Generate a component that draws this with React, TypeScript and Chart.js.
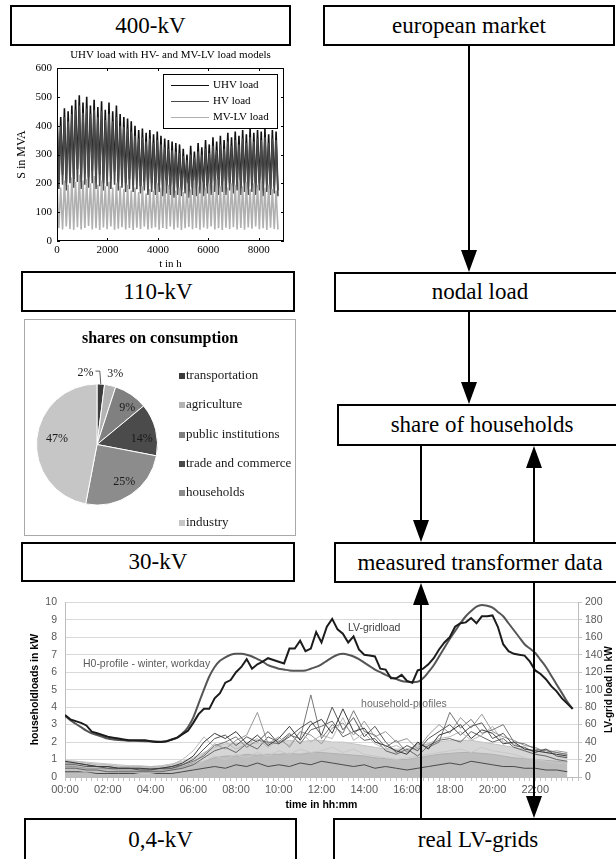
import React, { useEffect, useRef } from 'react';
import { Chart, registerables } from 'chart.js';

Chart.register(...registerables);

const SERIF = '"Liberation Serif", "Times New Roman", Times, serif';
const SANS = '"Liberation Sans", Arial, Helvetica, sans-serif';

// ---------------- Top chart data (S in MVA over one year, peak/trough pairs) ----------------
const topChartTitle = 'UHV load with HV- and MV-LV load models';
const yearLengthHours = 8760;
const topXTicks = [0, 2000, 4000, 6000, 8000];
const uhvLoad = [
  445, 210, 430, 230, 460, 200, 450, 240, 470, 215, 490, 250, 505, 205, 480, 235, 500, 220, 470, 245,
  490, 210, 465, 230, 485, 200, 455, 225, 480, 215, 450, 240, 470, 205, 440, 220, 430, 200, 425, 215,
  415, 195, 400, 210, 385, 190, 390, 205, 375, 185, 385, 200, 370, 180, 380, 195, 365, 175, 355, 190,
  350, 180, 345, 170, 340, 185, 335, 175, 320, 190, 300, 170, 330, 185, 310, 180, 340, 195, 325, 175,
  350, 190, 335, 180, 360, 200, 345, 185, 365, 195, 350, 180, 375, 200, 360, 190, 380, 205, 365, 185,
  385, 200, 370, 180, 390, 195, 375, 185, 385, 200, 380, 175, 390, 195, 370, 180, 385, 190, 380, 175,
];
const hvLoad = [
  420, 180, 400, 195, 430, 175, 415, 200, 440, 185, 455, 205, 470, 180, 445, 195, 460, 185, 440, 200,
  455, 180, 430, 190, 450, 175, 420, 190, 440, 180, 415, 195, 430, 175, 400, 185, 395, 170, 390, 180,
  380, 170, 365, 180, 355, 165, 360, 175, 345, 160, 355, 170, 340, 160, 350, 170, 335, 155, 325, 165,
  320, 160, 315, 150, 310, 160, 305, 155, 295, 165, 280, 150, 300, 160, 290, 155, 310, 165, 300, 155,
  320, 165, 305, 160, 330, 170, 315, 160, 335, 170, 320, 160, 345, 175, 330, 165, 350, 175, 335, 160,
  355, 170, 340, 160, 360, 170, 345, 160, 355, 175, 350, 155, 360, 170, 340, 160, 355, 165, 350, 155,
];
const mvlvLoad = [
  200, 45, 185, 40, 210, 50, 195, 42, 220, 38, 205, 48, 230, 40, 210, 45, 215, 52, 200, 40,
  225, 44, 195, 38, 210, 47, 190, 41, 205, 50, 185, 39, 200, 43, 190, 48, 180, 40, 195, 45,
  175, 38, 185, 46, 170, 42, 190, 50, 165, 40, 180, 44, 175, 48, 200, 39, 185, 45, 210, 42,
  195, 50, 190, 40, 175, 46, 185, 38, 170, 44, 200, 49, 180, 41, 210, 45, 190, 39, 205, 47,
  185, 43, 200, 50, 195, 40, 215, 44, 190, 38, 205, 46, 185, 42, 200, 48, 195, 40, 210, 45,
  190, 39, 205, 47, 180, 43, 200, 50, 195, 41, 210, 44, 185, 38, 195, 46, 180, 42, 175, 40,
];
const topSeriesLabels = ['UHV load', 'HV load', 'MV-LV load'];

// ---------------- Pie chart data ----------------
const pieTitle = 'shares on consumption';
const pieLabels = ['transportation', 'agriculture', 'public institutions', 'trade and commerce', 'households', 'industry'];
const pieShares = [2, 3, 9, 14, 25, 47];

// ---------------- Bottom chart data ----------------
// LV-grid load in kW (right axis), quarter-hourly 00:00 .. 23:45
const lvGridLoad = [
  71, 66, 64, 62, 59, 52, 50, 48,
  46, 45, 44, 43, 42, 42, 42, 42,
  41, 40, 40, 41, 43, 45, 49, 53,
  62, 72, 78, 78, 90, 96, 108, 111,
  120, 126, 135, 124, 129, 132, 136, 134,
  132, 130, 147, 147, 156, 144, 147, 166,
  154, 172, 181, 169, 164, 154, 161, 146,
  140, 139, 138, 124, 123, 113, 113, 117,
  110, 108, 122, 124, 129, 136, 146, 154,
  160, 172, 176, 177, 182, 176, 184, 184,
  185, 172, 152, 144, 141, 140, 139, 132,
  122, 118, 112, 104, 98, 90, 84, 78,
];
// H0 standard profile, scaled to the LV grid (right axis), quarter-hourly
const h0Profile = [
  70, 65, 61, 57, 53, 50, 48, 46,
  44, 43, 42.4, 42, 41.6, 41.4, 41.2, 41,
  40.8, 40.5, 40.4, 41, 43, 45, 50, 57,
  68, 84, 100, 115, 126, 133, 137, 140,
  141, 141, 140, 138, 135, 132, 128, 126,
  124, 123, 122, 121.5, 121.5, 122, 124, 126,
  129, 133, 137, 140, 141, 140, 138, 135,
  131, 127, 123, 120, 117, 114, 112, 110,
  109, 108.5, 109, 113, 120, 128, 138, 148,
  158, 167, 176, 184, 190, 195, 197, 196,
  194, 189, 184, 176, 168, 160, 152, 147,
  142, 134, 126, 116, 106, 96, 86, 78,
];
// household profiles in kW (left axis), half-hourly 00:00 .. 23:30
const householdEnvelope = [
  0.95, 0.9, 0.85, 0.8, 0.75, 0.7, 0.65, 0.65, 0.6, 0.65, 0.75, 0.9,
  1.1, 1.4, 1.7, 1.9, 1.9, 2.0, 1.9, 2.0, 2.0, 2.1, 2.0, 2.1,
  2.1, 2.0, 2.0, 1.9, 1.8, 1.7, 1.6, 1.6, 1.6, 1.8, 1.9, 2.0,
  2.1, 2.1, 2.1, 2.0, 1.9, 1.8, 1.7, 1.6, 1.5, 1.4, 1.3, 1.3,
];
const householdCore = [
  0.6, 0.55, 0.5, 0.5, 0.45, 0.4, 0.4, 0.4, 0.38, 0.4, 0.45, 0.55,
  0.7, 0.9, 1.1, 1.2, 1.2, 1.3, 1.25, 1.3, 1.3, 1.35, 1.3, 1.4,
  1.4, 1.35, 1.3, 1.25, 1.2, 1.1, 1.05, 1.0, 1.0, 1.1, 1.2, 1.3,
  1.35, 1.4, 1.4, 1.35, 1.3, 1.2, 1.1, 1.05, 1.0, 0.95, 0.9, 0.85,
];
const household1 = [
  0.9, 0.8, 0.7, 0.6, 0.6, 0.5, 0.5, 0.5, 0.45, 0.5, 0.6, 0.8,
  1.2, 2.0, 2.5, 2.2, 2.6, 1.9, 2.4, 1.8, 2.2, 2.9, 2.1, 3.0,
  3.3, 2.5, 3.9, 2.6, 2.8, 2.0, 1.8, 1.5, 1.3, 2.0, 1.6, 2.4,
  2.6, 3.0, 2.2, 2.7, 2.5, 1.9, 2.0, 1.6, 1.5, 1.4, 1.3, 1.2,
];
const household2 = [
  0.7, 0.7, 0.6, 0.6, 0.5, 0.5, 0.5, 0.4, 0.4, 0.5, 0.5, 0.7,
  1.0, 1.6, 2.2, 2.4, 1.8, 2.3, 2.0, 2.6, 1.9, 2.3, 2.8, 3.2,
  2.4, 4.0, 2.7, 3.4, 2.3, 2.9, 2.0, 1.4, 1.8, 1.5, 2.2, 2.6,
  3.0, 2.4, 2.9, 3.1, 2.2, 2.5, 1.8, 1.7, 1.4, 1.6, 1.2, 1.1,
];
const household3 = [
  0.8, 0.8, 0.7, 0.6, 0.6, 0.5, 0.5, 0.5, 0.5, 0.5, 0.6, 0.7,
  0.9, 1.2, 1.8, 2.0, 2.3, 1.7, 2.1, 2.0, 1.9, 2.4, 2.2, 4.7,
  2.2, 3.0, 2.5, 3.8, 2.6, 2.4, 1.7, 2.1, 1.4, 1.9, 1.7, 2.0,
  3.7, 2.8, 3.3, 2.5, 2.7, 3.0, 2.0, 1.9, 1.6, 1.5, 1.4, 1.3,
];
const household4 = [
  0.6, 0.6, 0.5, 0.5, 0.5, 0.4, 0.4, 0.4, 0.4, 0.4, 0.5, 0.6,
  0.8, 1.3, 1.9, 1.6, 2.1, 2.4, 3.7, 1.9, 2.3, 1.7, 2.6, 2.4,
  1.9, 2.8, 3.1, 2.4, 3.2, 2.3, 2.6, 2.0, 2.2, 1.6, 2.4, 3.0,
  2.5, 3.4, 2.8, 3.6, 2.6, 2.3, 2.1, 1.8, 1.7, 1.4, 1.5, 1.4,
];
const household5 = [
  0.9, 0.9, 0.8, 0.7, 0.7, 0.6, 0.6, 0.6, 0.6, 0.6, 0.7, 1.0,
  1.5, 2.3, 1.7, 2.0, 1.6, 1.9, 2.2, 1.7, 2.1, 1.8, 2.6, 2.0,
  2.4, 2.2, 3.4, 2.1, 2.5, 1.9, 1.6, 1.8, 1.5, 1.7, 1.9, 2.2,
  2.3, 2.6, 2.1, 2.4, 2.9, 2.0, 1.9, 1.6, 1.5, 1.6, 1.4, 1.3,
];
const household6 = [
  0.5, 0.5, 0.4, 0.4, 0.3, 0.3, 0.3, 0.3, 0.3, 0.3, 0.4, 0.5,
  0.7, 1.1, 1.5, 1.7, 1.4, 1.9, 1.6, 2.3, 2.0, 2.5, 1.9, 2.7,
  2.9, 3.2, 2.3, 2.6, 2.1, 2.2, 1.5, 1.3, 1.6, 1.2, 1.8, 2.1,
  2.2, 2.0, 2.6, 2.3, 2.0, 2.2, 1.7, 1.5, 1.3, 1.2, 1.0, 0.9,
];
const household7 = [
  0.4, 0.4, 0.3, 0.3, 0.3, 0.3, 0.3, 0.2, 0.2, 0.3, 0.3, 0.4,
  0.6, 0.9, 1.2, 1.0, 1.3, 1.1, 1.4, 1.2, 1.5, 1.3, 1.6, 1.4,
  1.5, 1.7, 1.4, 1.6, 1.3, 1.2, 1.1, 1.0, 1.1, 1.2, 1.3, 1.4,
  1.5, 1.6, 1.4, 1.7, 1.5, 1.4, 1.3, 1.1, 1.0, 0.9, 0.8, 0.8,
];
const household8 = [
  0.3, 0.3, 0.3, 0.2, 0.2, 0.2, 0.2, 0.2, 0.2, 0.2, 0.2, 0.3,
  0.4, 0.5, 0.6, 0.5, 0.7, 0.6, 0.8, 0.6, 0.7, 0.6, 0.8, 0.7,
  0.9, 0.8, 0.7, 0.6, 0.7, 0.5, 0.6, 0.5, 0.4, 0.5, 0.6, 0.7,
  0.8, 0.7, 0.9, 0.8, 0.7, 0.6, 0.6, 0.5, 0.5, 0.4, 0.4, 0.3,
];
const householdProfiles = [household1, household2, household3, household4, household5, household6, household7, household8];

// ---------------- helpers ----------------
const overYear = (vals: number[]) => vals.map((v, i) => ({ x: (i * yearLengthHours) / (vals.length - 1), y: v }));
const quarterHourly = (vals: number[]) => vals.map((v, i) => ({ x: i * 0.25, y: v }));
const halfHourly = (vals: number[]) => vals.map((v, i) => ({ x: i * 0.5, y: v }));
const hhmm = (h: number) => `${String(h).padStart(2, '0')}:00`;

// ---------------- Top chart ----------------
function TopChart() {
  const ref = useRef<HTMLCanvasElement>(null);
  useEffect(() => {
    const matlabPlugin = {
      id: 'matlabFrame',
      afterDraw(chart: any) {
        const { ctx, chartArea: a } = chart;
        const xs = chart.scales.x;
        const ys = chart.scales.y;
        ctx.save();
        ctx.strokeStyle = '#000';
        ctx.lineWidth = 1;
        ctx.strokeRect(a.left + 0.5, a.top + 0.5, a.right - a.left - 1, a.bottom - a.top - 1);
        ctx.beginPath();
        xs.ticks.forEach((t: any) => {
          const px = Math.round(xs.getPixelForValue(t.value)) + 0.5;
          ctx.moveTo(px, a.bottom); ctx.lineTo(px, a.bottom - 3);
          ctx.moveTo(px, a.top); ctx.lineTo(px, a.top + 3);
        });
        ys.ticks.forEach((t: any) => {
          const py = Math.round(ys.getPixelForValue(t.value)) + 0.5;
          ctx.moveTo(a.left, py); ctx.lineTo(a.left + 3, py);
          ctx.moveTo(a.right, py); ctx.lineTo(a.right - 3, py);
        });
        ctx.stroke();
        // title
        ctx.fillStyle = '#000';
        ctx.font = `11px ${SERIF}`;
        ctx.textAlign = 'center';
        ctx.textBaseline = 'middle';
        ctx.fillText(topChartTitle, (a.left + a.right) / 2, 7);
        // legend
        const bw = 114, bh = 54;
        const bx = a.right - 7 - bw, by = a.top + 6;
        ctx.fillStyle = '#fff';
        ctx.fillRect(bx, by, bw, bh);
        ctx.strokeRect(bx + 0.5, by + 0.5, bw, bh);
        topSeriesLabels.forEach((lab, i) => {
          const ds = chart.data.datasets.find((d: any) => d.label === lab);
          const ly = by + 11 + i * 16;
          ctx.strokeStyle = ds.borderColor;
          ctx.lineWidth = 1;
          ctx.beginPath();
          ctx.moveTo(bx + 8, ly + 0.5); ctx.lineTo(bx + 46, ly + 0.5);
          ctx.stroke();
          ctx.fillStyle = '#000';
          ctx.textAlign = 'left';
          ctx.fillText(lab, bx + 50, ly);
        });
        ctx.restore();
      },
    };
    const chart = new Chart(ref.current!, {
      type: 'line',
      data: {
        datasets: [
          { label: 'UHV load', data: overYear(uhvLoad), borderColor: '#111111', borderWidth: 1.6, pointRadius: 0, order: 3 },
          { label: 'HV load', data: overYear(hvLoad), borderColor: '#4a4a4a', borderWidth: 1.6, pointRadius: 0, order: 2 },
          { label: 'MV-LV load', data: overYear(mvlvLoad), borderColor: '#b0b0b0', borderWidth: 1.6, pointRadius: 0, order: 1 },
        ],
      },
      options: {
        responsive: false,
        animation: false,
        devicePixelRatio: 1,
        layout: { padding: { left: 0, right: 16, top: 20, bottom: 0 } },
        plugins: { legend: { display: false }, tooltip: { enabled: false }, title: { display: false } },
        scales: {
          x: {
            type: 'linear', min: 0, max: 9000,
            afterBuildTicks: (s: any) => { s.ticks = topXTicks.map((v) => ({ value: v })); },
            ticks: { stepSize: 2000, includeBounds: false, font: { family: SERIF, size: 11 }, color: '#000', padding: 3, maxRotation: 0, callback: (v: any) => String(v) },
            grid: { display: false, drawTicks: false },
            border: { display: false },
            title: { display: true, text: 't in h', font: { family: SERIF, size: 11, lineHeight: 1 }, color: '#000', padding: 0 },
            afterFit: (s: any) => { s.height = 29; },
          },
          y: {
            min: 0, max: 600,
            ticks: { stepSize: 100, font: { family: SERIF, size: 11 }, color: '#000', padding: 5, callback: (v: any) => String(v) },
            grid: { display: false, drawTicks: false },
            border: { display: false },
            title: { display: true, text: 'S in MVA', font: { family: SERIF, size: 12 }, color: '#000', padding: { top: 15, bottom: 0 } },
            afterFit: (s: any) => { s.width = 57; },
          },
        },
      },
      plugins: [matlabPlugin],
    } as any);
    return () => chart.destroy();
  }, []);
  return <canvas ref={ref} width={300} height={222} style={{ position: 'absolute', left: 0, top: 48, width: 300, height: 222 }} />;
}

// ---------------- Pie chart ----------------
function PieChart() {
  const ref = useRef<HTMLCanvasElement>(null);
  useEffect(() => {
    const labelOffsets = [
      [-0.19, -1.18], [0.3, -1.17], [0.5, -0.6], [0.74, -0.1], [0.45, 0.61], [-0.66, -0.1],
    ];
    const piePlugin = {
      id: 'pieDecor',
      afterDraw(chart: any) {
        const { ctx } = chart;
        const meta = chart.getDatasetMeta(0);
        ctx.save();
        ctx.fillStyle = '#000';
        ctx.font = `bold 16px ${SERIF}`;
        ctx.textAlign = 'center';
        ctx.textBaseline = 'middle';
        ctx.fillText(pieTitle, 135, 19);
        ctx.font = `12px ${SERIF}`;
        meta.data.forEach((arc: any, i: number) => {
          const p = arc.getProps(['x', 'y', 'outerRadius', 'startAngle', 'endAngle'], true);
          const r = p.outerRadius;
          const lx = p.x + labelOffsets[i][0] * r;
          const ly = p.y + labelOffsets[i][1] * r;
          ctx.fillStyle = '#1a1a1a';
          ctx.fillText(`${pieShares[i]}%`, lx, ly);
          if (i === 0) {
            const mid = (p.startAngle + p.endAngle) / 2;
            const ex = p.x + Math.cos(mid) * r;
            const ey = p.y + Math.sin(mid) * r;
            ctx.strokeStyle = '#333';
            ctx.lineWidth = 0.8;
            ctx.beginPath();
            ctx.moveTo(lx + 10, ly - 2);
            ctx.lineTo(ex - 1, ly - 2);
            ctx.lineTo(ex, ey);
            ctx.stroke();
          }
        });
        ctx.font = `13px ${SERIF}`;
        ctx.textAlign = 'left';
        const rows = [56, 85, 115, 144, 173, 203];
        pieLabels.forEach((lab, i) => {
          const y = rows[i];
          ctx.fillStyle = chart.data.datasets[0].backgroundColor[i];
          ctx.fillRect(154, y - 3, 6, 6);
          ctx.fillStyle = '#1a1a1a';
          ctx.fillText(lab, 161, y);
        });
        ctx.restore();
      },
    };
    const chart = new Chart(ref.current!, {
      type: 'pie',
      data: {
        labels: pieLabels,
        datasets: [{
          data: pieShares,
          backgroundColor: ['#3d3d3d', '#b3b3b3', '#808080', '#4b4b4b', '#8c8c8c', '#c6c6c6'],
          borderColor: '#ffffff',
          borderWidth: 1,
        }],
      },
      options: {
        responsive: false,
        animation: false,
        devicePixelRatio: 1,
        layout: { padding: { left: 11, top: 63.5, right: 137, bottom: 29.5 } },
        plugins: { legend: { display: false }, tooltip: { enabled: false } },
      },
      plugins: [piePlugin],
    } as any);
    return () => chart.destroy();
  }, []);
  return (
    <div style={{ position: 'absolute', left: 24, top: 319, width: 272, height: 217, boxSizing: 'border-box', border: '1px solid #a8a8a8', background: '#fff' }}>
      <canvas ref={ref} width={270} height={215} style={{ display: 'block', width: 270, height: 215 }} />
    </div>
  );
}

// ---------------- Bottom chart ----------------
function BottomChart() {
  const ref = useRef<HTMLCanvasElement>(null);
  useEffect(() => {
    const annotations = [
      { text: 'LV-gridload', h: 13.24, v: 8.54, color: '#404040' },
      { text: 'H0-profile - winter, workday', h: 0.84, v: 6.46, color: '#5a5a5a' },
      { text: 'household-profiles', h: 13.85, v: 4.16, color: '#6e6e6e' },
    ];
    const bottomPlugin = {
      id: 'bottomDecor',
      afterDraw(chart: any) {
        const { ctx, chartArea: a } = chart;
        const xs = chart.scales.x;
        const ys = chart.scales.y;
        ctx.save();
        ctx.textBaseline = 'middle';
        ctx.textAlign = 'left';
        ctx.font = `10.5px ${SANS}`;
        annotations.forEach((an) => {
          ctx.fillStyle = an.color;
          ctx.fillText(an.text, xs.getPixelForValue(an.h), ys.getPixelForValue(an.v));
        });
        ctx.translate(609, (a.top + a.bottom) / 2);
        ctx.rotate(-Math.PI / 2);
        ctx.textAlign = 'center';
        ctx.fillStyle = '#000';
        ctx.font = `bold 10px ${SANS}`;
        ctx.fillText('LV-grid load in kW', 0, 0);
        ctx.restore();
      },
    };
    const greys = ['#3a3a3a', '#555555', '#777777', '#999999', '#b8b8b8', '#666666', '#c8c8c8', '#4a4a4a'];
    const profileSets = householdProfiles.map((p, i) => ({
      label: `household ${i + 1}`,
      data: halfHourly(p),
      borderColor: greys[i],
      borderWidth: 1,
      pointRadius: 0,
      yAxisID: 'y',
      order: 2 + i,
    }));
    const chart = new Chart(ref.current!, {
      type: 'line',
      data: {
        datasets: [
          { label: 'LV-gridload', data: quarterHourly(lvGridLoad), borderColor: '#1c1c1c', borderWidth: 2, pointRadius: 0, yAxisID: 'y2', order: 0 },
          { label: 'H0-profile - winter, workday', data: quarterHourly(h0Profile), borderColor: '#555555', borderWidth: 2, pointRadius: 0, yAxisID: 'y2', cubicInterpolationMode: 'monotone', order: 1 },
          ...profileSets,
          { label: 'household core', data: halfHourly(householdCore), borderColor: '#b0b0b0', backgroundColor: '#bdbdbd', fill: 'origin', borderWidth: 1, pointRadius: 0, yAxisID: 'y', order: 19 },
          { label: 'household-profiles', data: halfHourly(householdEnvelope), borderColor: '#c4c4c4', backgroundColor: '#d6d6d6', fill: 'origin', borderWidth: 1, pointRadius: 0, yAxisID: 'y', order: 20 },
        ],
      },
      options: {
        responsive: false,
        animation: false,
        devicePixelRatio: 1,
        layout: { padding: { left: 0, right: 0, top: 11, bottom: 0 } },
        plugins: { legend: { display: false }, tooltip: { enabled: false } },
        scales: {
          x: {
            type: 'linear', min: 0, max: 24,
            ticks: {
              stepSize: 0.25, autoSkip: false, maxRotation: 0, minRotation: 0,
              font: { family: SANS, size: 11 }, color: '#595959', padding: 2,
              callback: (v: any) => (Number(v) % 2 === 0 && Number(v) < 24 ? hhmm(Number(v)) : ''),
            },
            grid: { drawOnChartArea: false, drawTicks: true, tickLength: 4, color: '#c4c4c4' },
            border: { display: true, color: '#bdbdbd' },
            title: { display: true, text: 'time in hh:mm', font: { family: SANS, size: 10.5, weight: 'bold', lineHeight: 1 }, color: '#000', padding: { top: 0, bottom: 3 } },
            afterFit: (s: any) => { s.height = 36; },
          },
          y: {
            position: 'left', min: 0, max: 10,
            ticks: { stepSize: 1, font: { family: SANS, size: 10.5 }, color: '#595959', padding: 8 },
            grid: { color: '#d9d9d9', drawTicks: false },
            border: { display: true, color: '#bdbdbd' },
            title: { display: true, text: 'householdloads in kW', font: { family: SANS, size: 10.5, weight: 'bold' }, color: '#000', padding: { top: 29, bottom: 0 } },
            afterFit: (s: any) => { s.width = 65; },
          },
          y2: {
            position: 'right', min: 0, max: 200,
            ticks: { stepSize: 20, font: { family: SANS, size: 10.5 }, color: '#595959', padding: 3 },
            grid: { drawOnChartArea: false, drawTicks: true, tickLength: 4, color: '#c4c4c4' },
            border: { display: true, color: '#bdbdbd' },
            afterFit: (s: any) => { s.width = 38; },
          },
        },
      },
      plugins: [bottomPlugin],
    } as any);
    return () => chart.destroy();
  }, []);
  return <canvas ref={ref} width={616} height={225} style={{ position: 'absolute', left: 0, top: 588, width: 616, height: 225 }} />;
}

// ---------------- Diagram boxes & arrows ----------------
const boxes = [
  { text: '400-kV', left: 10, top: 5, width: 281, height: 41 },
  { text: '110-kV', left: 21, top: 271, width: 274, height: 41 },
  { text: '30-kV', left: 21, top: 542, width: 274, height: 40 },
  { text: '0,4-kV', left: 24, top: 818, width: 273, height: 41, open: true },
  { text: 'european market', left: 323, top: 5, width: 292, height: 41 },
  { text: 'nodal load', left: 334, top: 272, width: 292, height: 40 },
  { text: 'share of households', left: 337, top: 404, width: 290, height: 42 },
  { text: 'measured transformer data', left: 334, top: 542, width: 292, height: 41 },
  { text: 'real LV-grids', left: 333, top: 818, width: 290, height: 41, open: true },
];
const arrows = [
  { x: 469, from: 46, to: 272 },
  { x: 469, from: 312, to: 404 },
  { x: 421, from: 446, to: 542 },
  { x: 534, from: 542, to: 446 },
  { x: 421, from: 818, to: 583 },
  { x: 534, from: 583, to: 818 },
];

export default function App() {
  return (
    <div style={{ position: 'absolute', left: 0, top: 0, width: 616, height: 859, overflow: 'hidden', background: '#fff' }}>
      <TopChart />
      <PieChart />
      <BottomChart />
      {boxes.map((b) => (
        <div
          key={b.text}
          style={{
            position: 'absolute', left: b.left, top: b.top, width: b.width, height: b.height,
            boxSizing: 'border-box', border: '2px solid #000', borderBottom: b.open ? 'none' : '2px solid #000',
            background: '#fff',
            display: 'flex', alignItems: 'center', justifyContent: 'center',
            fontFamily: SERIF, fontSize: 23, color: '#000', whiteSpace: 'nowrap',
          }}
        >
          {b.text}
        </div>
      ))}
      <svg width={616} height={859} style={{ position: 'absolute', left: 0, top: 0, pointerEvents: 'none' }}>
        {arrows.map((a, i) => {
          const dir = a.to > a.from ? 1 : -1;
          const base = a.to - dir * 22;
          return (
            <g key={i}>
              <line x1={a.x} y1={a.from} x2={a.x} y2={base} stroke="#000" strokeWidth={2} />
              <polygon points={`${a.x - 8},${base} ${a.x + 8},${base} ${a.x},${a.to}`} fill="#000" />
            </g>
          );
        })}
      </svg>
    </div>
  );
}
